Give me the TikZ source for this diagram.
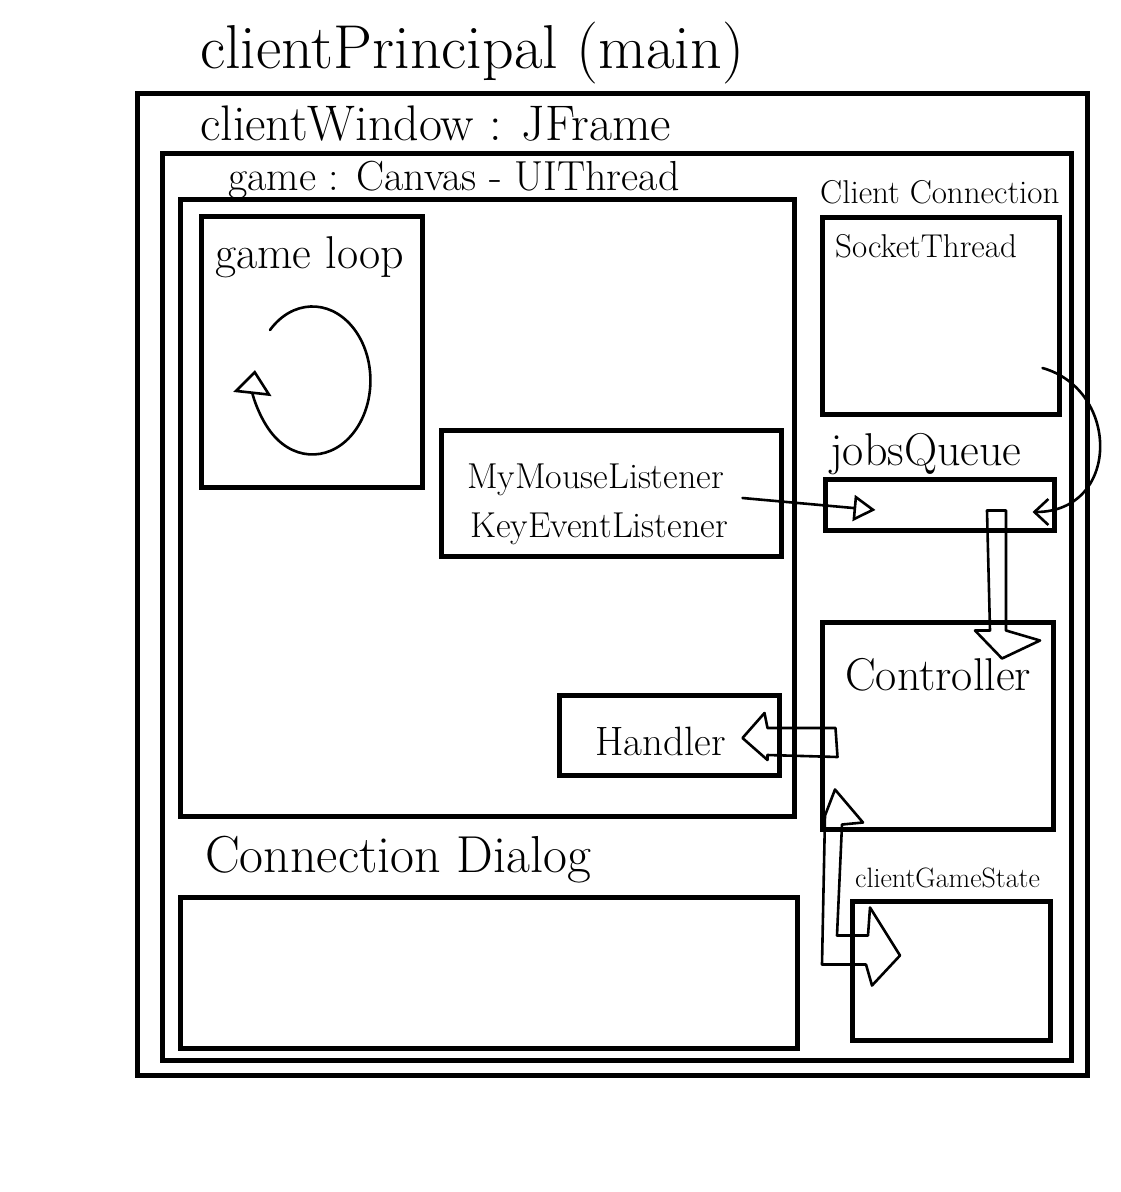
\documentclass[tikz,border=0pt]{standalone}
\usetikzlibrary{arrows.meta}

\begin{document}
\begin{tikzpicture}[x=1pt,y=-1pt,
    box/.style={draw, line width=5pt, inner sep=0pt},
    lbl/.style={anchor=base west, inner sep=0pt},
    conn/.style={line width=2.6pt, line cap=round, line join=round},
    fat/.style={line width=2.6pt, line join=round}]

    \useasboundingbox (0,0) rectangle (1120,1192);

    % frames
    \node[box, minimum width=950, minimum height=982] at (612,584) (win) {};
    \node[box, minimum width=909, minimum height=907] at (616.5,606.5) (frame) {};
    \node[box, minimum width=614, minimum height=617] at (487,507.5) (canvas) {};
    \node[box, minimum width=221, minimum height=271] at (311.5,351.5) (loopbox) {};
    \node[box, minimum width=340, minimum height=126] at (611,493) (listen) {};
    \node[box, minimum width=220, minimum height=80] at (669,735) (handler) {};
    \node[box, minimum width=237, minimum height=197] at (940.5,315.5) (socket) {};
    \node[box, minimum width=229, minimum height=51] at (939.5,504.5) (jobs) {};
    \node[box, minimum width=231, minimum height=207] at (937.5,725.5) (ctrl) {};
    \node[box, minimum width=198, minimum height=139] at (951,970.5) (state) {};
    \node[box, minimum width=617, minimum height=151] at (488.5,972.5) (dialog) {};

    % labels
    \node[lbl, font=\fontsize{62}{68}\selectfont] at (200,68) (tmain) {clientPrincipal (main)};
    \node[lbl, font=\fontsize{50}{56}\selectfont] at (200,140) (twin) {clientWindow : JFrame};
    \node[lbl, font=\fontsize{42}{46}\selectfont] at (228,190) (tcanvas) {game : Canvas - UIThread};
    \node[lbl, font=\fontsize{33}{36}\selectfont] at (820,203) (tconn) {Client Connection};
    \node[lbl, font=\fontsize{33}{36}\selectfont] at (835,257) (tsocket) {SocketThread};
    \node[lbl, font=\fontsize{46}{50}\selectfont] at (830,465) (tjobs) {jobsQueue};
    \node[lbl, font=\fontsize{46}{50}\selectfont] at (215,268) (tloop) {game loop};
    \node[lbl, font=\fontsize{36}{40}\selectfont] at (467,488) (tmouse) {MyMouseListener};
    \node[lbl, font=\fontsize{36}{40}\selectfont] at (470,537) (tkey) {KeyEventListener};
    \node[lbl, font=\fontsize{41}{45}\selectfont] at (595,755) (thandler) {Handler};
    \node[lbl, font=\fontsize{46}{50}\selectfont] at (845,690) (tctrl) {Controller};
    \node[lbl, font=\fontsize{52}{56}\selectfont] at (205,872) (tdialog) {Connection Dialog};
    \node[lbl, font=\fontsize{28}{32}\selectfont] at (855,887) (tstate) {clientGameState};

    % game loop
    \coordinate (loopin) at ([shift={(-41.5,-21.5)}]loopbox.center);
    \draw[conn, -{Triangle[open, length=24pt, width=38pt]}] (loopin) arc[start angle=223, end angle=548, x radius=58, y radius=74];

    % listeners to queue
    \draw[conn, -{Triangle[open, length=22pt, width=26pt]}] ([shift={(-41,5)}]listen.east) -- ([shift={(53,5.5)}]jobs.west);

    % socket thread to queue
    \draw[conn, -{Straight Barb[length=14pt, width=26pt]}] ([shift={(-19,52.5)}]socket.east) .. controls +(78,22) and +(88,0) .. ([shift={(-24,7.5)}]jobs.east);

    % queue to controller
    \draw[fat] ([shift={(47.5,-22)}]jobs.south) -- ++(3,120) -- ++(-15,0) -- ++(27,28) -- ++(38,-18) -- ++(-34,-10) -- ++(0,-120) -- cycle;

    % controller to handler
    \draw[fat] ([shift={(16,2.5)}]ctrl.west) -- ++(-68,0) -- ++(-3,-15) -- ++(-22,25) -- ++(25,22) -- ++(0,-5) -- ++(70,2) -- cycle;

    % controller and game state
    \draw[fat] ([shift={(-102.5,-42)}]ctrl.south) -- ++(28,33) -- ++(-21,2) -- ++(-5,111) -- ++(31,0) -- ++(2,-28) -- ++(30,48) -- ++(-28,30) -- ++(-6,-21) -- ++(-44,0) -- ++(3,-149) -- cycle;

\end{tikzpicture}
\end{document}
